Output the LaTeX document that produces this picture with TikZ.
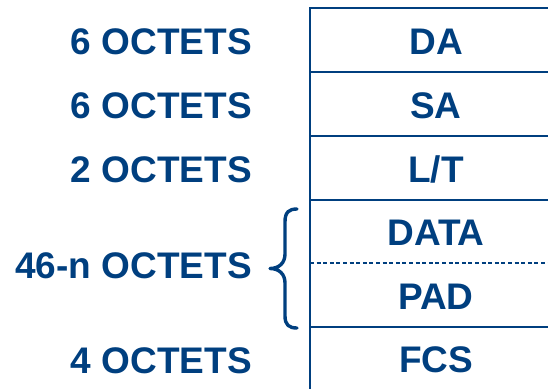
\documentclass[tikz,border=0pt]{standalone}
\usepackage{fontspec}
\setmainfont{Liberation Sans}
\definecolor{navy}{HTML}{003F7F}
\begin{document}
\begin{tikzpicture}[x=1pt,y=-1pt,
  lbl/.style={text=navy,font=\fontsize{37}{40}\selectfont\bfseries,inner sep=0pt,text height=26.5pt,text depth=0pt},
  rowline/.style={draw=navy,line width=2pt},
  dashline/.style={draw=navy,line width=1.6pt,dash pattern=on 4pt off 2.6pt}]
\useasboundingbox (0,0) rectangle (548,388);
\begin{scope}
\clip (0,0) rectangle (548,388);
% table frame
\draw[rowline] (610,8) -- (310,8) -- (310,400);
\draw[rowline] (310,71.5) -- (610,71.5);
\draw[rowline] (310,135.5) -- (610,135.5);
\draw[rowline] (310,199.5) -- (610,199.5);
\draw[dashline] (310,263) -- (610,263);
\draw[rowline] (310,326.5) -- (610,326.5);
\end{scope}
% cell texts
\node[lbl] (da) at (436,41) {DA};
\node[lbl] (sa) at (436,105) {SA};
\node[lbl] (lt) at (436,169) {L/T};
\node[lbl] (data) at (436,232) {DATA};
\node[lbl] (pad) at (436,296) {PAD};
\node[lbl] (fcs) at (436,359.5) {FCS};
% size labels
\node[lbl,anchor=east] (o1) at (252,41) {6 OCTETS};
\node[lbl,anchor=east] (o2) at (252,105) {6 OCTETS};
\node[lbl,anchor=east] (o3) at (252,169) {2 OCTETS};
\node[lbl,anchor=east] (o4) at (252,265) {46-n OCTETS};
\node[lbl,anchor=east] (o5) at (252,360) {4 OCTETS};
% brace
\draw[navy,line width=3.4pt,line cap=round,line join=round]
  (297,209) .. controls (289,209) and (285,212) .. (285,222)
  -- (285,254) .. controls (285,263) and (279,268.5) .. (270,268.5)
  .. controls (279,268.5) and (285,274) .. (285,283)
  -- (285,316) .. controls (285,325) and (289,328) .. (297,328);
\end{tikzpicture}
\end{document}
